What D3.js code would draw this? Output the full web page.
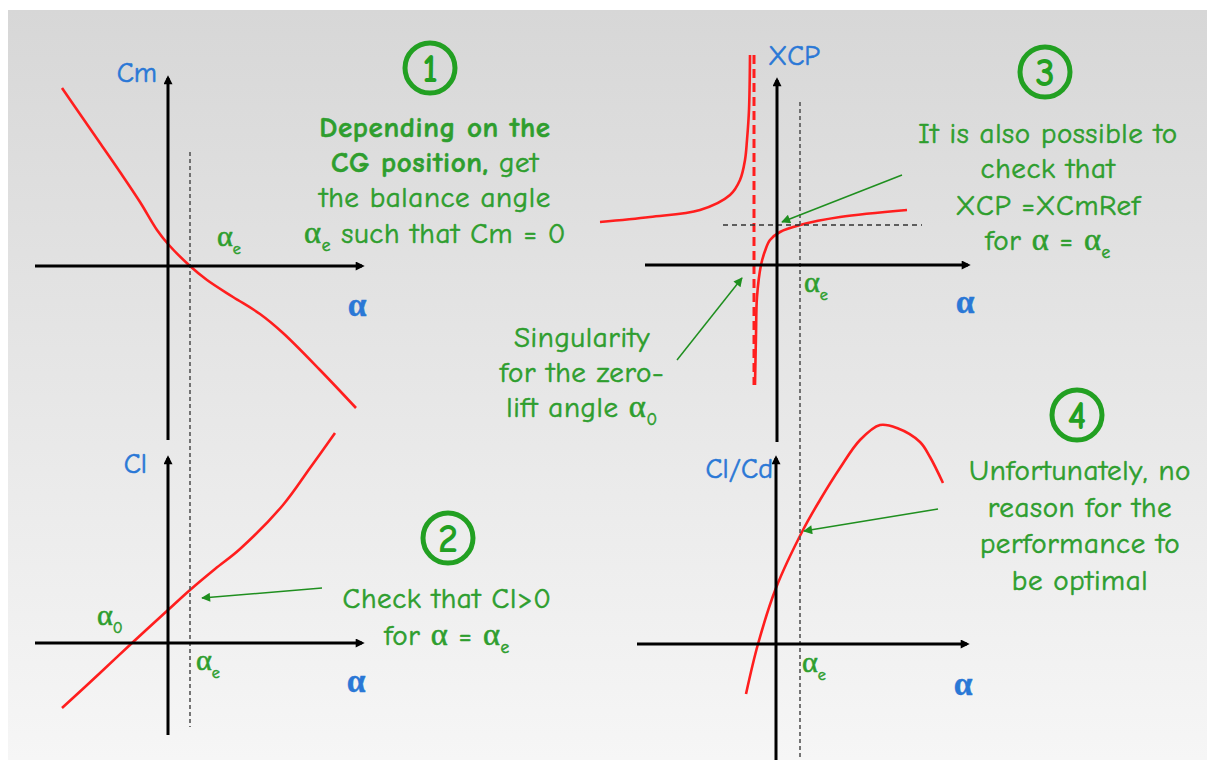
<!DOCTYPE html>
<html>
<head>
<meta charset="utf-8">
<script src="https://cdn.jsdelivr.net/npm/d3@7"></script>
<style>
  body { margin: 0; background: #fff; }
  svg { display: block; }
</style>
</head>
<body>
<div class="displayArea"></div>
<script>
// values, in arbitrary angle / coefficient units (origin = axes crossing)

// panel 1 : pitching moment Cm vs alpha
var cmAlpha = [-10.6, -8.6, -6.8, -4.8, -2.8, -1.1, 0, 2.2, 3.9, 6.5, 9.2, 11.5, 15.2, 18.8];
var cmValue = [17.8, 14.9, 12.3, 9.4, 6.4, 3.6, 2.2, 0, -1.4, -3.1, -4.8, -6.7, -10.4, -14.2];

// panel 2 : lift Cl vs alpha
var clAlpha = [-10.6, -6.8, -3.6, 0, 2.2, 4.7, 7.2, 11.5, 14.2, 16.7];
var clValue = [-6.5, -3.0, 0, 3.3, 5.3, 7.4, 9.4, 13.8, 17.5, 21.0];

// panel 3 : centre of pressure XCP vs alpha (two branches round the singularity)
var xcpLeftAlpha = [-17.7, -12.7, -7.7, -4.7, -3.7, -3.2, -3.0, -2.8, -2.7];
var xcpLeftValue = [4.3, 4.8, 5.5, 7.0, 8.5, 10.5, 12.5, 15.5, 21.0];
var xcpRightAlpha = [-2.2, -2.1, -2.0, -1.6, -1.2, -0.7, 0.3, 2.3, 6.3, 13.0];
var xcpRightValue = [-12.0, -7.0, -3.2, 0, 1.4, 2.5, 3.3, 4.0, 4.8, 5.5];

// panel 4 : finesse Cl/Cd vs alpha
var ldAlpha = [-3.0, -1.8, 0, 2.7, 4.4, 6.4, 8.4, 10.4, 12.1, 14.4, 15.4, 16.7];
var ldValue = [-5.0, 0, 5.6, 11.4, 14.4, 17.6, 20.4, 21.9, 21.6, 20.2, 18.7, 16.1];

// reference values
var alphaE12 = 2.2, alphaE34 = 2.3;   // balance angle
var alpha0 = -2.3;                     // zero lift angle (XCP asymptote)
var xcmRef = 4.0;                      // XCP at balance

var width = 1207, height = 760;
var red = "#ff1e1e", green = "#2e9e2e", blue = "#2a78d6", dash = "#555";
var font = "'Comic Sans MS', 'Comic Neue', 'DejaVu Sans', sans-serif";
var greekFont = "'Liberation Serif', 'DejaVu Serif', serif";

var svg = d3.select(".displayArea").append("svg")
    .attr("width", width)
    .attr("height", height)
    .style("font-family", font);

var defs = svg.append("defs");
var grad = defs.append("linearGradient").attr("id", "bg").attr("x1", 0).attr("y1", 0).attr("x2", 0).attr("y2", 1);
grad.append("stop").attr("offset", "0%").attr("stop-color", "#d7d7d7");
grad.append("stop").attr("offset", "55%").attr("stop-color", "#e8e8e8");
grad.append("stop").attr("offset", "100%").attr("stop-color", "#f6f6f6");

function marker(id, color, w, h, refX) {
    defs.append("marker")
        .attr("id", id)
        .attr("viewBox", "0 0 10 10")
        .attr("refX", refX).attr("refY", 5)
        .attr("markerWidth", w).attr("markerHeight", h)
        .attr("markerUnits", "userSpaceOnUse")
        .attr("orient", "auto")
        .append("path").attr("d", "M0,0L10,5L0,10z").attr("fill", color);
}
marker("axArrow", "#000", 12, 9, 7);
marker("gArrow", "#1f8f1f", 14, 9, 9);

svg.append("rect").attr("width", width).attr("height", height).attr("fill", "#fff");
svg.append("rect").attr("x", 8).attr("y", 10).attr("width", width - 8).attr("height", height - 10).attr("fill", "url(#bg)");

// scales for every panel
var x1 = d3.scaleLinear().domain([-13.3, 19.4]).range([35, 362]);
var y1 = d3.scaleLinear().domain([-17.4, 18.8]).range([440, 78]);
var x2 = x1;
var y2 = d3.scaleLinear().domain([-9.2, 18.5]).range([735, 458]);
var x3 = d3.scaleLinear().domain([-13.2, 19.1]).range([645, 968]);
var y3 = d3.scaleLinear().domain([-17.7, 18.5]).range([442, 80]);
var x4 = d3.scaleLinear().domain([-13.9, 19.1]).range([637, 967]);
var y4 = d3.scaleLinear().domain([-11.6, 18.6]).range([760, 458]);

var curveLayer = svg.append("g");
var axisLayer = svg.append("g");
var textLayer = svg.append("g");

// dashed alpha_e guides (they run across both stacked panels)
function vGuide(xs, ysTop, top, ysBot, bot, a) {
    axisLayer.append("line")
        .attr("x1", xs(a)).attr("x2", xs(a))
        .attr("y1", ysTop(top)).attr("y2", ysBot(bot))
        .attr("stroke", dash).attr("stroke-width", 1.6).attr("stroke-dasharray", "4,3");
}
vGuide(x1, y1, 11.4, y2, -8.4, alphaE12);
vGuide(x3, y3, 16.3, y4, -11.6, alphaE34);

// horizontal XCmRef guide
axisLayer.append("line")
    .attr("x1", x3(-5.4)).attr("x2", x3(14.5))
    .attr("y1", y3(xcmRef)).attr("y2", y3(xcmRef))
    .attr("stroke", "#333").attr("stroke-width", 1.4).attr("stroke-dasharray", "5,4");

// axes with arrow heads
function axes(xs, ys) {
    var xd = xs.domain(), yd = ys.domain();
    axisLayer.append("line")
        .attr("x1", xs(xd[0])).attr("x2", xs(xd[1]))
        .attr("y1", ys(0)).attr("y2", ys(0))
        .attr("stroke", "#000").attr("stroke-width", 3)
        .attr("marker-end", "url(#axArrow)");
    axisLayer.append("line")
        .attr("x1", xs(0)).attr("x2", xs(0))
        .attr("y1", ys(yd[0])).attr("y2", ys(yd[1]))
        .attr("stroke", "#000").attr("stroke-width", 3)
        .attr("marker-end", "url(#axArrow)");
}
axes(x1, y1); axes(x2, y2); axes(x3, y3); axes(x4, y4);

// curves
function curve(xs, ys, xa, ya) {
    var pts = xa.map(function (d, i) { return [d, ya[i]]; });
    curveLayer.append("path")
        .datum(pts)
        .attr("fill", "none")
        .attr("stroke", red)
        .attr("stroke-width", 2.6)
        .attr("stroke-linejoin", "round")
        .attr("d", d3.line()
            .x(function (d) { return xs(d[0]); })
            .y(function (d) { return ys(d[1]); })
            .curve(d3.curveCatmullRom.alpha(0.5)));
}
curve(x1, y1, cmAlpha, cmValue);
curve(x2, y2, clAlpha, clValue);
curve(x3, y3, xcpLeftAlpha, xcpLeftValue);
curve(x3, y3, xcpRightAlpha, xcpRightValue);
curve(x4, y4, ldAlpha, ldValue);

// XCP singularity asymptote
curveLayer.append("line")
    .attr("x1", x3(alpha0)).attr("x2", x3(alpha0))
    .attr("y1", y3(21.0)).attr("y2", y3(-12.0))
    .attr("stroke", red).attr("stroke-width", 3).attr("stroke-dasharray", "9,5");

// green annotation arrows (tail -> head, in panel units)
function gArrow(xs, ys, from, to) {
    textLayer.append("line")
        .attr("x1", xs(from[0])).attr("y1", ys(from[1]))
        .attr("x2", xs(to[0])).attr("y2", ys(to[1]))
        .attr("stroke", "#1f8f1f").attr("stroke-width", 1.5)
        .attr("marker-end", "url(#gArrow)");
}
gArrow(x2, y2, [15.4, 5.5], [3.4, 4.5]);
gArrow(x3, y3, [12.5, 9.0], [0.5, 4.3]);
gArrow(x3, y3, [-10.0, -9.5], [-3.5, -1.3]);
gArrow(x4, y4, [16.2, 13.5], [2.8, 11.3]);

// text helper : segments are strings or {t, sub, b}; every alpha gets a serif glyph
function txt(x, y, anchor, size, color, segs, bold) {
    var t = textLayer.append("text")
        .attr("x", x).attr("y", y)
        .attr("text-anchor", anchor)
        .attr("font-size", size)
        .attr("fill", color)
        .attr("stroke", color)
        .attr("stroke-width", bold ? 0.4 : 0.55)
        .attr("font-weight", bold ? "bold" : "normal");
    var shift = 0;
    segs.forEach(function (s) {
        if (typeof s === "string") s = { t: s };
        s.t.split(/(α)/).forEach(function (piece) {
            if (piece === "") return;
            var sp = t.append("tspan").text(piece);
            if (s.b) sp.attr("font-weight", "bold");
            if (piece === "α") sp.style("font-family", greekFont).attr("font-size", size * 1.12);
            if (s.sub) {
                sp.attr("font-size", size * 0.6).attr("dy", size * 0.28 - shift);
                shift = size * 0.28;
            } else if (shift) {
                sp.attr("dy", -shift);
                shift = 0;
            }
        });
    });
    return t;
}

// axis names
txt(157, 82, "end", 28, blue, ["Cm"]);
txt(147, 473, "end", 28, blue, ["Cl"]);
txt(768, 65, "start", 28, blue, ["XCP"]);
txt(773, 478, "end", 28, blue, ["Cl/Cd"]);
txt(357, 316, "middle", 30, blue, ["α"], true);
txt(356, 692, "middle", 30, blue, ["α"], true);
txt(965, 313, "middle", 30, blue, ["α"], true);
txt(963, 695, "middle", 30, blue, ["α"], true);

// alpha markers
txt(217, 246, "start", 27, green, ["α", { t: "e", sub: true }]);
txt(97, 625, "start", 27, green, ["α", { t: "0", sub: true }]);
txt(196, 670, "start", 27, green, ["α", { t: "e", sub: true }]);
txt(804, 292, "start", 27, green, ["α", { t: "e", sub: true }]);
txt(802, 672, "start", 27, green, ["α", { t: "e", sub: true }]);

// circled numbers
function badge(cx, cy, n) {
    textLayer.append("circle").attr("cx", cx).attr("cy", cy).attr("r", 25)
        .attr("fill", "none").attr("stroke", "#22a022").attr("stroke-width", 5);
    textLayer.append("text").attr("x", cx).attr("y", cy + 14)
        .attr("text-anchor", "middle").attr("font-size", 40).attr("font-weight", "bold")
        .attr("fill", "#22a022").text(n);
}
badge(430, 68, "1");
badge(448, 538, "2");
badge(1045, 72, "3");
badge(1077, 415, "4");

// comment blocks
function block(cx, baselines, lines, size) {
    lines.forEach(function (l, i) {
        txt(cx, baselines[i], "middle", size, green, l)
            .attr("letter-spacing", 0.6);
    });
}
block(435, [137, 172, 207, 243], [
    [{ t: "Depending on the", b: true }],
    [{ t: "CG position,", b: true }, " get"],
    ["the balance angle"],
    ["α", { t: "e", sub: true }, " such that Cm = 0"]
], 29);
block(447, [608, 645], [
    ["Check that Cl>0"],
    ["for α = α", { t: "e", sub: true }]
], 29);
block(1048, [143, 178, 215, 250], [
    ["It is also possible to"],
    ["check that"],
    ["XCP =XCmRef"],
    ["for α = α", { t: "e", sub: true }]
], 29);
block(582, [347, 382, 417], [
    ["Singularity"],
    ["for the zero-"],
    ["lift angle α", { t: "0", sub: true }]
], 29);
block(1080, [480, 517, 553, 590], [
    ["Unfortunately, no"],
    ["reason for the"],
    ["performance to"],
    ["be optimal"]
], 29);
</script>
</body>
</html>
